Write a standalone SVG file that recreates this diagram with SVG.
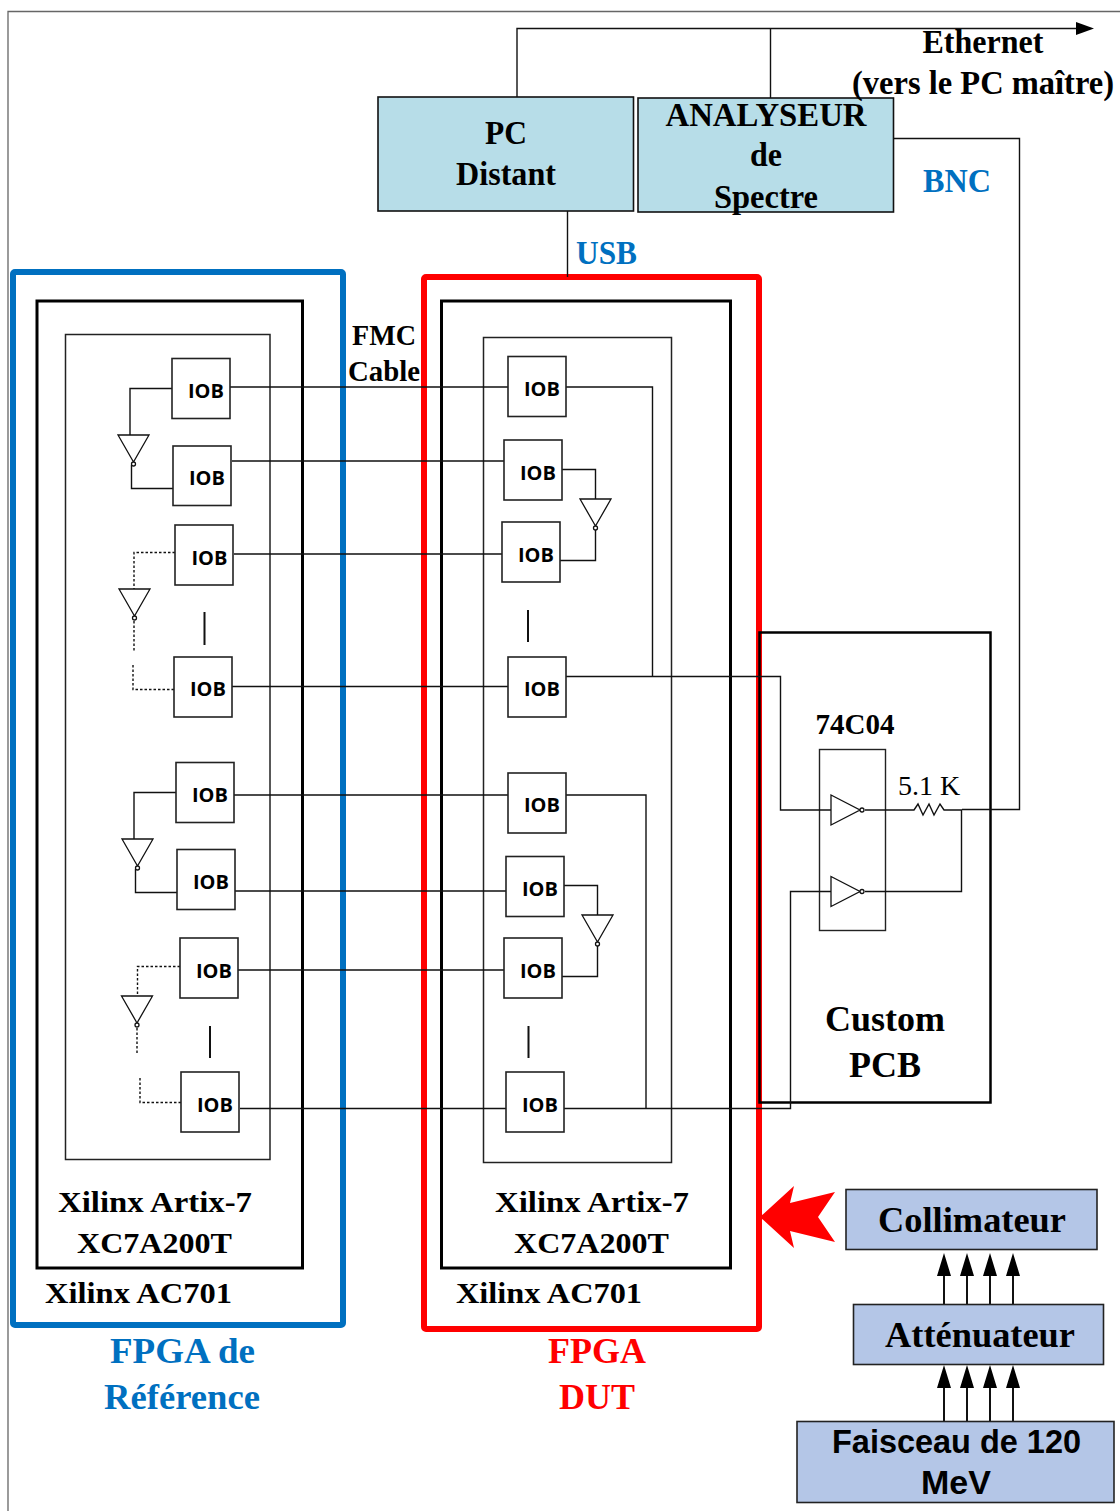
<svg xmlns="http://www.w3.org/2000/svg" width="1120" height="1511" viewBox="0 0 1120 1511">
<style>
text{font-family:"Liberation Serif","Times New Roman",serif;font-weight:bold;fill:#000;text-anchor:middle}
.iob rect{fill:#fff;stroke:#222;stroke-width:1.6}
.iob text{font-family:"Open Sans","Liberation Sans",sans-serif;font-size:20px;font-weight:700;text-anchor:middle}
.w{fill:none;stroke:#111;stroke-width:1.4}
.d{fill:none;stroke:#111;stroke-width:1.4;stroke-dasharray:2.5 2}
.g{fill:#fff;stroke:#111;stroke-width:1.3}
.blue{fill:#b7dde8;stroke:#111;stroke-width:1.6}
.per{fill:#b4c6e7;stroke:#222;stroke-width:1.6}
.t28{font-size:29px}.t36{font-size:36px}.t33{font-size:33px}
.c{fill:#0070c0}.r{fill:#f00}
</style>
<defs>
<g id="invd"><path class="g" d="M-15 0H16L0.5 27Z"/><circle class="g" cx="0.5" cy="29" r="2"/></g>
<g id="invr"><path class="g" d="M0 -15V15L29 0Z"/><circle class="g" cx="31" cy="0" r="2"/></g>
</defs>
<path d="M8 1511V11.500H1120" fill="none" stroke="#666" stroke-width="1.3"/>

<g id="board-ref-frame"><rect x="13" y="272" width="330" height="1053" rx="2" fill="none" stroke="#0070c0" stroke-width="6"/></g>
<g id="board-dut-frame"><rect x="424" y="277" width="335" height="1052" rx="2" fill="none" stroke="#f00" stroke-width="6"/></g>
<g id="ac701-ref"><rect x="37" y="301" width="265.500" height="967" fill="none" stroke="#000" stroke-width="3"/></g>
<g id="ac701-dut"><rect x="441.500" y="301" width="289" height="967" fill="none" stroke="#000" stroke-width="3"/></g>
<g id="fpga-ref"><rect x="65.500" y="334.500" width="204.500" height="825" fill="none" stroke="#222" stroke-width="1.5"/></g>
<g id="fpga-dut"><rect x="483.500" y="337.500" width="188" height="825" fill="none" stroke="#222" stroke-width="1.5"/></g>
<g id="custom-pcb"><rect x="759.500" y="632.500" width="231" height="470" fill="none" stroke="#000" stroke-width="2.500"/></g>
<g id="ic-74c04"><rect x="819.500" y="749.500" width="66" height="181" fill="none" stroke="#222" stroke-width="1.4"/></g>

<g id="connectors">
<path class="w" d="M517 97V28.500H1085"/>
<path d="M1094 28.500L1076 22V35Z" fill="#000"/>
<path class="w" d="M770.500 28.500V98"/>
<path class="w" d="M567.500 211V277"/>
<path class="w" d="M893 138.500H1019.500V809.500H962"/>
<path class="w" d="M230 387H508M232 461H504M234 554H502M232 686.500H508"/>
<path class="w" d="M234 795H508M235 891H506M238 970H504M240 1108.500H506"/>
<path class="w" d="M566 387H652.500V676.500M566 676.500H780.500V810H831"/>
<path class="w" d="M566 795H646V1108.500M564 1108.500H790.500V891.500H831"/>
<path class="w" d="M562 469.500H595.500V499M560 560.500H595.500V530"/>
<path class="w" d="M564 885.500H597.500V915M562 976.500H597.500V946"/>
<path class="w" d="M172 388.500H130V435M173 488.500H131.500V465"/>
<path class="d" d="M175 552.500H134V589M134 621V651M133 665V689.500H174"/>
<path class="w" d="M176 792.500H134V839M177 892.500H135.500V869"/>
<path class="d" d="M180 966.500H137.500V996M137 1028V1054M140 1078V1102.500H181"/>
<path class="w" d="M865 810H914L918 804L923 815L929 804L934 815L940 804L944 810H961.500V891.500H865"/>
<path class="w" d="M204.500 612V645M528 610V642M210 1026V1058M528.500 1026V1058" style="stroke-width:2"/>
<g id="inverters">
<use href="#invd" x="133" y="435"/><use href="#invd" x="134" y="589"/><use href="#invd" x="137" y="839"/><use href="#invd" x="136.500" y="996"/>
<use href="#invd" x="595" y="499"/><use href="#invd" x="597" y="915"/>
<use href="#invr" x="831" y="810"/><use href="#invr" x="831" y="891.500"/>
</g>
<path class="w" style="stroke-width:2" d="M944 1304V1266M967 1304V1266M990 1304V1266M1013 1304V1266M944 1424V1382M967 1424V1382M990 1424V1382M1013 1424V1382"/>
<path fill="#000" d="M944 1253L937 1276H951ZM967 1253L960 1276H974ZM990 1253L983 1276H997ZM1013 1253L1006 1276H1020ZM944 1365L937 1388H951ZM967 1365L960 1388H974ZM990 1365L983 1388H997ZM1013 1365L1006 1388H1020Z"/>
<path id="red-arrow" fill="#f00" d="M760 1217L794 1186L790 1203L835 1192L818 1217L835 1242L790 1231L794 1248Z"/>
</g>

<g class="iob" id="iob-l1"><rect x="172" y="358.500" width="58" height="60"/><text x="206" y="397.500">IOB</text></g>
<g class="iob" id="iob-l2"><rect x="173" y="446" width="58" height="59.500"/><text x="207" y="484.500">IOB</text></g>
<g class="iob" id="iob-l3"><rect x="175" y="525" width="58" height="60"/><text x="209.500" y="564.500">IOB</text></g>
<g class="iob" id="iob-l4"><rect x="174" y="657" width="58" height="60"/><text x="208" y="695.500">IOB</text></g>
<g class="iob" id="iob-l5"><rect x="176" y="762.500" width="58" height="60"/><text x="210" y="801.500">IOB</text></g>
<g class="iob" id="iob-l6"><rect x="177" y="849.500" width="58" height="60"/><text x="211" y="888.500">IOB</text></g>
<g class="iob" id="iob-l7"><rect x="180" y="938" width="58" height="60"/><text x="214" y="977.500">IOB</text></g>
<g class="iob" id="iob-l8"><rect x="181" y="1072" width="58" height="60"/><text x="215" y="1111.500">IOB</text></g>
<g class="iob" id="iob-r1"><rect x="508" y="356.500" width="58" height="60"/><text x="542" y="395.500">IOB</text></g>
<g class="iob" id="iob-r2"><rect x="504" y="440" width="58" height="60"/><text x="538" y="479.500">IOB</text></g>
<g class="iob" id="iob-r3"><rect x="502" y="522" width="58" height="60"/><text x="536" y="561.500">IOB</text></g>
<g class="iob" id="iob-r4"><rect x="508" y="657" width="58" height="60"/><text x="542" y="695.500">IOB</text></g>
<g class="iob" id="iob-r5"><rect x="508" y="773" width="58" height="60"/><text x="542" y="811.500">IOB</text></g>
<g class="iob" id="iob-r6"><rect x="506" y="856.500" width="58" height="60"/><text x="540" y="895.500">IOB</text></g>
<g class="iob" id="iob-r7"><rect x="504" y="938" width="58" height="60"/><text x="538" y="977.500">IOB</text></g>
<g class="iob" id="iob-r8"><rect x="506" y="1072" width="58" height="60"/><text x="540" y="1111.500">IOB</text></g>

<g id="pc-distant"><rect class="blue" x="378" y="97" width="255.500" height="114"/>
<text class="t33" x="506" y="144" textLength="42" lengthAdjust="spacingAndGlyphs">PC</text><text class="t33" x="506" y="185" textLength="100" lengthAdjust="spacingAndGlyphs">Distant</text></g>
<g id="analyseur"><rect class="blue" x="638" y="98" width="255.500" height="114"/>
<text class="t33" x="766" y="126" textLength="201" lengthAdjust="spacingAndGlyphs">ANALYSEUR</text><text class="t33" x="766" y="166" textLength="32" lengthAdjust="spacingAndGlyphs">de</text><text class="t33" x="766" y="208" textLength="104" lengthAdjust="spacingAndGlyphs">Spectre</text></g>

<g id="labels">
<text class="t33" x="983" y="53" textLength="121" lengthAdjust="spacingAndGlyphs">Ethernet</text>
<text class="t33" x="983" y="94" textLength="262" lengthAdjust="spacingAndGlyphs">(vers le PC maître)</text>
<text class="t33 c" x="957" y="192" textLength="68" lengthAdjust="spacingAndGlyphs">BNC</text>
<text class="t33 c" x="606.500" y="264" textLength="61" lengthAdjust="spacingAndGlyphs">USB</text>
<text class="t28" x="384" y="345" textLength="64" lengthAdjust="spacingAndGlyphs">FMC</text>
<text class="t28" x="384" y="381" textLength="72" lengthAdjust="spacingAndGlyphs">Cable</text>
<text class="t28" x="155" y="1212" textLength="194" lengthAdjust="spacingAndGlyphs">Xilinx Artix-7</text>
<text class="t28" x="154.500" y="1253" textLength="155" lengthAdjust="spacingAndGlyphs">XC7A200T</text>
<text class="t28" x="138.500" y="1303" textLength="187" lengthAdjust="spacingAndGlyphs">Xilinx AC701</text>
<text class="t28" x="592" y="1212" textLength="194" lengthAdjust="spacingAndGlyphs">Xilinx Artix-7</text>
<text class="t28" x="591.500" y="1253" textLength="155" lengthAdjust="spacingAndGlyphs">XC7A200T</text>
<text class="t28" x="549" y="1303" textLength="186" lengthAdjust="spacingAndGlyphs">Xilinx AC701</text>
<text class="t36 c" x="182.500" y="1363" textLength="145" lengthAdjust="spacingAndGlyphs">FPGA de</text>
<text class="t36 c" x="182" y="1409" textLength="156" lengthAdjust="spacingAndGlyphs">Référence</text>
<text class="t36 r" x="597" y="1363">FPGA</text>
<text class="t36 r" x="597" y="1409">DUT</text>
<text class="t28" x="855" y="734">74C04</text>
<text x="929" y="795" style="font-weight:normal;font-size:28px">5.1 K</text>
<text class="t36" x="885" y="1031" textLength="120" lengthAdjust="spacingAndGlyphs">Custom</text>
<text class="t36" x="885" y="1077">PCB</text>
</g>

<g id="collimateur"><rect class="per" x="846" y="1189.500" width="251" height="60"/><text class="t36" x="972" y="1232" textLength="188" lengthAdjust="spacingAndGlyphs">Collimateur</text></g>
<g id="attenuateur"><rect class="per" x="853.500" y="1304.500" width="250" height="60"/><text class="t36" x="980" y="1347" textLength="190" lengthAdjust="spacingAndGlyphs">Atténuateur</text></g>
<g id="faisceau"><rect class="per" x="797" y="1421.500" width="317" height="81"/>
<text x="956.500" y="1453" textLength="249" lengthAdjust="spacingAndGlyphs" style="font-family:'Liberation Sans',Arial,sans-serif;font-size:34px">Faisceau de 120</text>
<text x="956" y="1494" style="font-family:'Liberation Sans',Arial,sans-serif;font-size:34px">MeV</text></g>
</svg>
